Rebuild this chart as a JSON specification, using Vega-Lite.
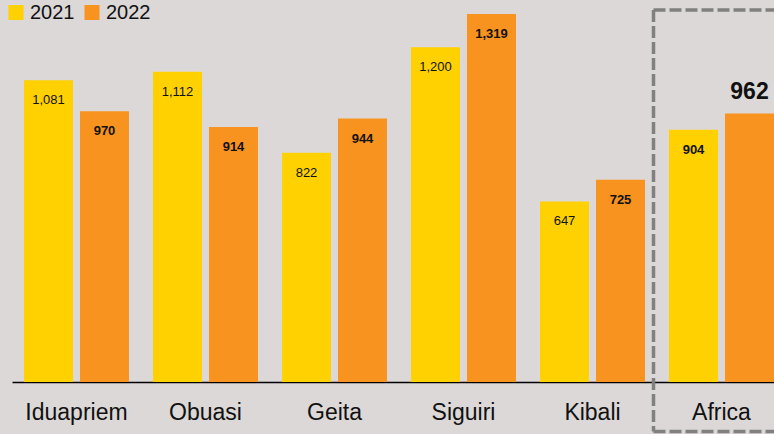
{
  "$schema": "https://vega.github.io/schema/vega-lite/v6.json",
  "width": 774,
  "height": 382,
  "autosize": "none",
  "padding": {"left": 0, "top": 0, "right": 0, "bottom": 52},
  "background": "#dcd8d7",
  "config": {
    "view": {"stroke": null},
    "font": "Liberation Sans",
    "text": {"font": "Liberation Sans"}
  },
  "data": {
    "values": [
      {"site": "Iduapriem", "year": "2021", "value": 1081},
      {"site": "Iduapriem", "year": "2022", "value": 970},
      {"site": "Obuasi", "year": "2021", "value": 1112},
      {"site": "Obuasi", "year": "2022", "value": 914},
      {"site": "Geita", "year": "2021", "value": 822},
      {"site": "Geita", "year": "2022", "value": 944},
      {"site": "Siguiri", "year": "2021", "value": 1200},
      {"site": "Siguiri", "year": "2022", "value": 1319},
      {"site": "Kibali", "year": "2021", "value": 647},
      {"site": "Kibali", "year": "2022", "value": 725},
      {"site": "Africa", "year": "2021", "value": 904},
      {"site": "Africa", "year": "2022", "value": 962}
    ]
  },
  "encoding": {
    "x": {
      "field": "site",
      "type": "nominal",
      "sort": null,
      "scale": {"range": [12, 786], "paddingInner": 0.18605, "paddingOuter": 0.09302},
      "axis": {
        "title": null,
        "ticks": false,
        "tickSize": 0,
        "labelAngle": 0,
        "labelFontSize": 23,
        "labelColor": "#111111",
        "labelFont": "Liberation Sans",
        "labelBaseline": "alphabetic",
        "labelPadding": 37,
        "domainColor": "#000000",
        "domainWidth": 1.3
      }
    }
  },
  "layer": [
    {
      "mark": {"type": "bar"},
      "encoding": {
        "xOffset": {
          "field": "year",
          "type": "nominal",
          "scale": {"paddingInner": 0.125, "paddingOuter": 0}
        },
        "y": {
          "field": "value",
          "type": "quantitative",
          "scale": {"domain": [0, 1369], "nice": false, "zero": true},
          "axis": null
        },
        "color": {
          "field": "year",
          "type": "nominal",
          "scale": {"domain": ["2021", "2022"], "range": ["#ffd100", "#f7931e"]},
          "legend": {
            "title": null,
            "orient": "none",
            "legendX": 6,
            "legendY": 2.5,
            "direction": "horizontal",
            "padding": 0,
            "symbolType": "square",
            "symbolSize": 225,
            "symbolStrokeWidth": 0,
            "symbolOpacity": 1,
            "labelFontSize": 20,
            "labelFont": "Liberation Sans",
            "labelColor": "#111111",
            "labelOffset": 4,
            "columnPadding": 7
          }
        }
      }
    },
    {
      "transform": [{"filter": "datum.year == '2021' && datum.site != 'Africa'"}],
      "mark": {"type": "text", "dy": 20, "baseline": "middle", "fontSize": 13, "color": "#111111"},
      "encoding": {
        "xOffset": {"field": "year", "type": "nominal"},
        "y": {"field": "value", "type": "quantitative"},
        "text": {"field": "value", "type": "quantitative", "format": ","}
      }
    },
    {
      "transform": [{"filter": "(datum.year == '2022' && datum.site != 'Africa') || (datum.year == '2021' && datum.site == 'Africa')"}],
      "mark": {"type": "text", "dy": 20, "baseline": "middle", "fontSize": 13, "fontWeight": "bold", "color": "#111111"},
      "encoding": {
        "xOffset": {"field": "year", "type": "nominal"},
        "y": {"field": "value", "type": "quantitative"},
        "text": {"field": "value", "type": "quantitative", "format": ","}
      }
    },
    {
      "transform": [{"filter": "datum.year == '2022' && datum.site == 'Africa'"}],
      "mark": {"type": "text", "dy": -22, "baseline": "middle", "fontSize": 23, "fontWeight": "bold", "color": "#111111"},
      "encoding": {
        "xOffset": {"field": "year", "type": "nominal"},
        "y": {"field": "value", "type": "quantitative"},
        "text": {"field": "value", "type": "quantitative", "format": ","}
      }
    },
    {
      "transform": [{"filter": "datum.year == '2021' && datum.site == 'Africa'"}],
      "mark": {"type": "rule", "color": "#808080", "strokeWidth": 3.5, "strokeDash": [12, 4], "strokeCap": "butt"},
      "encoding": {
        "x": {"field": "site", "type": "nominal", "sort": null, "bandPosition": -0.1476},
        "y": {"datum": 1333},
        "y2": {"datum": -177}
      }
    },
    {
      "transform": [{"filter": "datum.year == '2021' && datum.site == 'Africa'"}],
      "mark": {"type": "rule", "color": "#808080", "strokeWidth": 3.5, "strokeDash": [12, 4], "strokeCap": "butt"},
      "encoding": {
        "x": {"field": "site", "type": "nominal", "sort": null, "bandPosition": -0.1476},
        "x2": {"field": "site", "bandPosition": 1.6},
        "y": {"datum": 1333}
      }
    },
    {
      "transform": [{"filter": "datum.year == '2021' && datum.site == 'Africa'"}],
      "mark": {"type": "rule", "color": "#808080", "strokeWidth": 3.5, "strokeDash": [12, 4], "strokeCap": "butt"},
      "encoding": {
        "x": {"field": "site", "type": "nominal", "sort": null, "bandPosition": -0.1476},
        "x2": {"field": "site", "bandPosition": 1.6},
        "y": {"datum": -177}
      }
    }
  ]
}
